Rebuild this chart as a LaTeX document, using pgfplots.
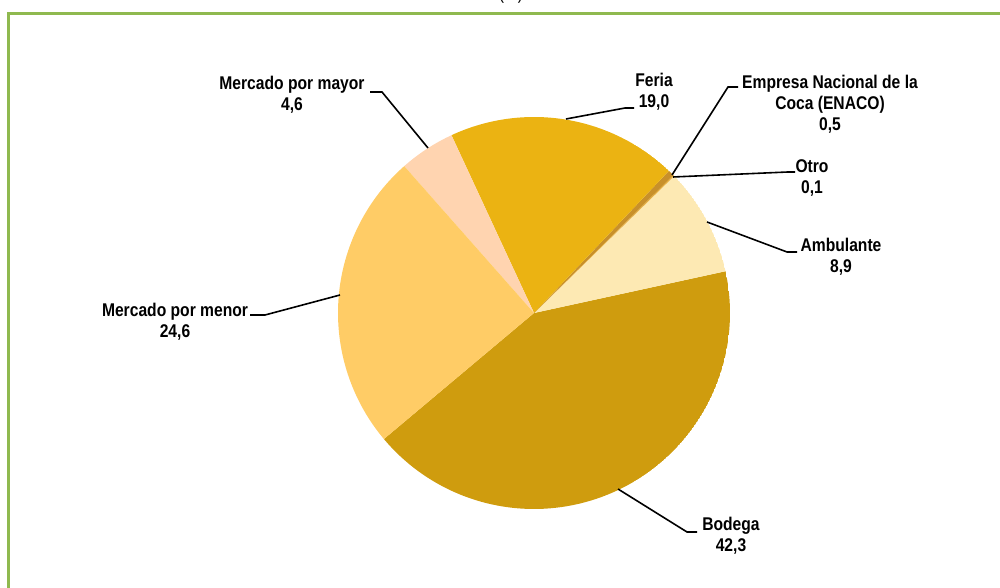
\documentclass[border=0pt]{standalone}
\usepackage{pgfplots}
\pgfplotsset{compat=1.18}
\usepackage{pgfplotstable}
\usepgfplotslibrary{polar}
\usepackage{fontspec}
\setmainfont{Liberation Sans}[FakeStretch=0.85]

\definecolor{cBod}{HTML}{CF9C0E}
\definecolor{cAmb}{HTML}{FDE9B3}
\definecolor{cOtr}{HTML}{E8B040}
\definecolor{cEna}{HTML}{C8902A}
\definecolor{cFer}{HTML}{EBB312}
\definecolor{cMay}{HTML}{FFD4B0}
\definecolor{cMen}{HTML}{FFCC66}
\definecolor{frameGreen}{HTML}{8FB94F}

% values in %, counter-clockwise order starting at the lower-left edge of Bodega
\pgfplotstableread[col sep=comma]{
name,value,color
Bodega,42.3,cBod
Ambulante,8.9,cAmb
Otro,0.1,cOtr
ENACO,0.5,cEna
Feria,19.0,cFer
Mayor,4.6,cMay
Menor,24.6,cMen
}\pietable

\begin{document}
\begin{tikzpicture}
\useasboundingbox (0,0) rectangle (500pt,294pt);
\begin{polaraxis}[
  at={(267pt,137.5pt)}, anchor=center,
  hide axis, scale only axis,
  width=196pt, height=196pt,
  ymin=0, ymax=1,
]
\xdef\cumangle{-139.98}
\pgfplotsforeachungrouped \i in {0,...,6}{%
  \pgfplotstablegetelem{\i}{value}\of\pietable \let\val\pgfplotsretval
  \pgfplotstablegetelem{\i}{color}\of\pietable \let\col\pgfplotsretval
  \pgfmathsetmacro{\endangle}{\cumangle+3.6*\val}%
  \edef\doslice{\noexpand\addplot[draw=none, fill=\col, domain=\cumangle:\endangle, samples=90] {1} -- (axis cs:0,0) -- cycle;}%
  \doslice
  \xdef\cumangle{\endangle}%
}
\end{polaraxis}

\begin{scope}[x=0.5pt, y=-0.5pt, yshift=294pt,
  lbl/.style={align=center, inner sep=0pt, font=\fontsize{9.2}{10.4}\selectfont\bfseries}]
  % frame
  \draw[frameGreen, line width=1.35pt] (8.3,620) -- (8.3,13.7) -- (1020,13.7);
  \node[anchor=base, inner sep=0pt, font=\fontsize{9.2}{10}\selectfont] at (511,0) {(\%)};
  % leader lines
  \begin{scope}[line width=0.8pt, black]
    \draw (428,148) -- (382,92) -- (370,92);
    \draw (566,119) -- (625,108) -- (634,108);
    \draw (672,175) -- (728,87) -- (738,87);
    \draw (673,177) -- (788,172) -- (795,172);
    \draw (707,222) -- (787,252) -- (797,252);
    \draw (618,489) -- (687,532) -- (697,532);
    \draw (340,295) -- (265,315) -- (250,315);
  \end{scope}
  % labels
  \node[lbl] at (292,95) {Mercado por mayor\\4,6};
  \node[lbl] at (654,92) {Feria\\19,0};
  \node[lbl] at (830,104) {Empresa Nacional de la\\Coca (ENACO)\\0,5};
  \node[lbl] at (812,178) {Otro\\0,1};
  \node[lbl] at (841,257) {Ambulante\\8,9};
  \node[lbl] at (731,536) {Bodega\\42,3};
  \node[lbl] at (175,322) {Mercado por menor\\24,6};
\end{scope}
\end{tikzpicture}
\end{document}
